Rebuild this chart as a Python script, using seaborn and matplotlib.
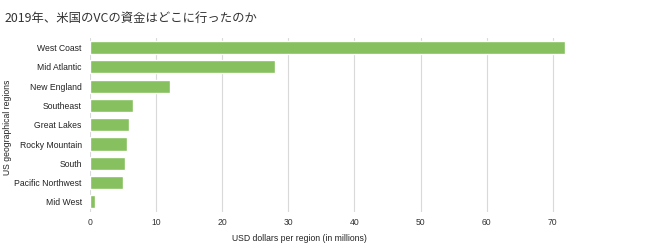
import matplotlib
matplotlib.use("Agg")
import matplotlib.pyplot as plt
import seaborn as sns
import pandas as pd

regions = ["West Coast", "Mid Atlantic", "New England", "Southeast", "Great Lakes",
           "Rocky Mountain", "South", "Pacific Northwest", "Mid West"]
values = [71.9, 28.0, 12.1, 6.5, 5.9, 5.6, 5.3, 5.0, 0.8]
xticks = [0, 10, 20, 30, 40, 50, 60, 70]

title = "2019年、米国のVCの資金はどこに行ったのか"
xlabel = "USD dollars per region (in millions)"
ylabel = "US geographical regions"

df = pd.DataFrame({"region": regions, "value": values})

sns.set_theme(style="white")
plt.rcParams['font.family'] = ['Liberation Sans', 'DejaVu Sans']

fig = plt.figure(figsize=(6.45, 2.45), dpi=100)
ax = fig.add_axes([90/645, 1 - 211.5/245, 476/645, 173.5/245])

sns.barplot(data=df, x="value", y="region", color="#87c05e", saturation=1,
            width=0.68, ax=ax, zorder=3)

ax.set_xlim(0, 72)
ax.set_ylim(8.5, -0.5)
ax.set_xticks(xticks)
ax.set_xticklabels([str(t) for t in xticks], fontsize=6.2, color="#333333")
ax.tick_params(axis="y", labelsize=6.2, colors="#222222", length=0, pad=6)
ax.tick_params(axis="x", length=0, pad=4.5)
ax.grid(axis="x", color="#d9d9d9", linewidth=0.8, zorder=0)
for s in ax.spines.values():
    s.set_visible(False)

ax.set_xlabel("")
ax.set_ylabel("")
fig.text(299/645, 1 - 238/245, xlabel, fontsize=6.2, color="#222222", ha="center", va="center")
fig.text(8/645, 1 - 127/245, ylabel, fontsize=6.2, color="#222222", ha="center", va="center",
         rotation=90)

fig.text(5/645, 1 - 18/245, title, fontsize=8.9, color="#333333", va="center", ha="left",
         family=['Noto Sans CJK JP', 'DejaVu Sans'])

fig.savefig("out.png", dpi=100)
